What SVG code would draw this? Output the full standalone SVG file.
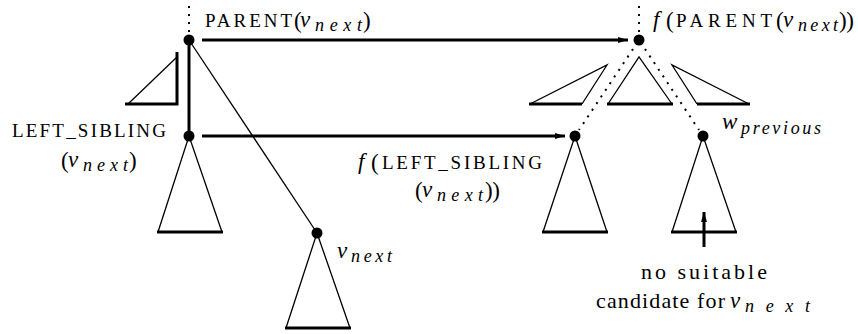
<svg xmlns="http://www.w3.org/2000/svg" width="858" height="334" viewBox="0 0 858 334">
<style>
.thin{stroke:#000;stroke-width:1.3;fill:none}
.thick{stroke:#000;stroke-width:3;fill:none}
.dot{stroke:#000;stroke-width:2;stroke-dasharray:2 6;fill:none}
.node{fill:#000}
</style>
<defs>
<marker id="ah" viewBox="0 0 10 6" refX="10" refY="3" markerWidth="10" markerHeight="6" markerUnits="userSpaceOnUse" orient="auto">
<path d="M0,0 L10,3 L0,6 Z" fill="#000"/>
</marker>
</defs>
<rect width="858" height="334" fill="#fff"/>
<g id="connectors">
<line class="dot" x1="189" y1="6" x2="189" y2="32"/>
<line class="thick" x1="189" y1="40" x2="189" y2="136"/>
<line class="thin" x1="189" y1="40" x2="317" y2="233"/>
<line class="thick" x1="202" y1="40" x2="628" y2="40" stroke-width="2.2" marker-end="url(#ah)"/>
<line class="thick" x1="202" y1="136" x2="565" y2="136" marker-end="url(#ah)"/>
<line class="dot" x1="639" y1="6" x2="639" y2="32"/>
<line class="dot" x1="633" y1="49" x2="579" y2="130"/>
<line class="dot" x1="645" y1="49" x2="699" y2="130"/>
<line class="thick" x1="704" y1="247" x2="704" y2="212" stroke-width="2.5" marker-end="url(#ah)"/>
</g>
<g id="parent">
<circle class="node" cx="189" cy="40" r="5.5"/>
<path class="thin" d="M177,57 L128,104"/>
<path class="thick" d="M177,52 L177,104 L125,104"/>
<text font-family="Liberation Serif" font-size="19" x="205" y="27" textLength="87" lengthAdjust="spacing">PARENT</text>
<text font-family="Liberation Serif" font-size="23" x="294" y="28">(</text>
<text font-family="Liberation Serif" font-size="23" font-style="italic" x="300" y="27">v</text>
<text font-family="Liberation Serif" font-size="18" font-style="italic" x="315" y="31" textLength="47" lengthAdjust="spacing">next</text>
<text font-family="Liberation Serif" font-size="23" x="363" y="28">)</text>
</g>
<g id="left_sibling">
<circle class="node" cx="189" cy="136" r="5.5"/>
<path class="thin" d="M158,232 L189,136 L222,232"/>
<line class="thick" x1="157" y1="232" x2="223" y2="232"/>
<text font-family="Liberation Serif" font-size="19" x="12" y="137" textLength="154" lengthAdjust="spacing">LEFT_SIBLING</text>
<text font-family="Liberation Serif" font-size="23" x="61" y="168">(</text>
<text font-family="Liberation Serif" font-size="23" font-style="italic" x="68" y="167">v</text>
<text font-family="Liberation Serif" font-size="18" font-style="italic" x="83" y="171" textLength="45" lengthAdjust="spacing">next</text>
<text font-family="Liberation Serif" font-size="23" x="129" y="168">)</text>
</g>
<g id="v_next">
<circle class="node" cx="317" cy="233" r="5.5"/>
<path class="thin" d="M286,328 L317,233 L350,328"/>
<line class="thick" x1="285" y1="328" x2="351" y2="328"/>
<text font-family="Liberation Serif" font-size="23" font-style="italic" x="337" y="258">v</text>
<text font-family="Liberation Serif" font-size="18" font-style="italic" x="351" y="262" textLength="41" lengthAdjust="spacing">next</text>
</g>
<g id="f_parent">
<circle class="node" cx="639" cy="40" r="5.5"/>
<path class="thin" d="M582,104 L607,65 L530,104"/>
<line class="thick" x1="529" y1="104" x2="582" y2="104"/>
<path class="thin" d="M608,104 L639,57 L672,104"/>
<line class="thick" x1="607" y1="104" x2="673" y2="104"/>
<path class="thin" d="M697,104 L672,65 L749,104"/>
<line class="thick" x1="697" y1="104" x2="750" y2="104"/>
<text font-family="Liberation Serif" font-size="23" font-style="italic" x="653" y="27">f</text>
<text font-family="Liberation Serif" font-size="23" x="666" y="28">(</text>
<text font-family="Liberation Serif" font-size="19" x="676" y="27" textLength="96" lengthAdjust="spacing">PARENT</text>
<text font-family="Liberation Serif" font-size="23" x="776" y="28">(</text>
<text font-family="Liberation Serif" font-size="23" font-style="italic" x="783" y="27">v</text>
<text font-family="Liberation Serif" font-size="18" font-style="italic" x="798" y="31" textLength="40" lengthAdjust="spacing">next</text>
<text font-family="Liberation Serif" font-size="23" x="839" y="28" textLength="15" lengthAdjust="spacing">))</text>
</g>
<g id="f_left_sibling">
<circle class="node" cx="575" cy="136" r="5.5"/>
<path class="thin" d="M543,232 L575,136 L607,232"/>
<line class="thick" x1="542" y1="232" x2="608" y2="232"/>
<text font-family="Liberation Serif" font-size="23" font-style="italic" x="358" y="169">f</text>
<text font-family="Liberation Serif" font-size="23" x="371" y="170">(</text>
<text font-family="Liberation Serif" font-size="19" x="382" y="169" textLength="160" lengthAdjust="spacing">LEFT_SIBLING</text>
<text font-family="Liberation Serif" font-size="23" x="415" y="198">(</text>
<text font-family="Liberation Serif" font-size="23" font-style="italic" x="422" y="197">v</text>
<text font-family="Liberation Serif" font-size="18" font-style="italic" x="437" y="201" textLength="46" lengthAdjust="spacing">next</text>
<text font-family="Liberation Serif" font-size="23" x="485" y="198" textLength="15" lengthAdjust="spacing">))</text>
</g>
<g id="w_previous">
<circle class="node" cx="703" cy="136" r="5.5"/>
<path class="thin" d="M672,232 L703,136 L736,232"/>
<line class="thick" x1="671" y1="232" x2="737" y2="232"/>
<text font-family="Liberation Serif" font-size="23" font-style="italic" x="722" y="129">w</text>
<text font-family="Liberation Serif" font-size="18" font-style="italic" x="741" y="134" textLength="80" lengthAdjust="spacing">previous</text>
</g>
<g id="note">
<text font-family="Liberation Serif" font-size="22" x="641" y="279" textLength="126" lengthAdjust="spacing">no suitable</text>
<text font-family="Liberation Serif" font-size="22" x="596" y="308" textLength="129" lengthAdjust="spacing">candidate for</text>
<text font-family="Liberation Serif" font-size="23" font-style="italic" x="730" y="308">v</text>
<text font-family="Liberation Serif" font-size="18" font-style="italic" x="745" y="312" textLength="65" lengthAdjust="spacing">next</text>
</g>
</svg>
